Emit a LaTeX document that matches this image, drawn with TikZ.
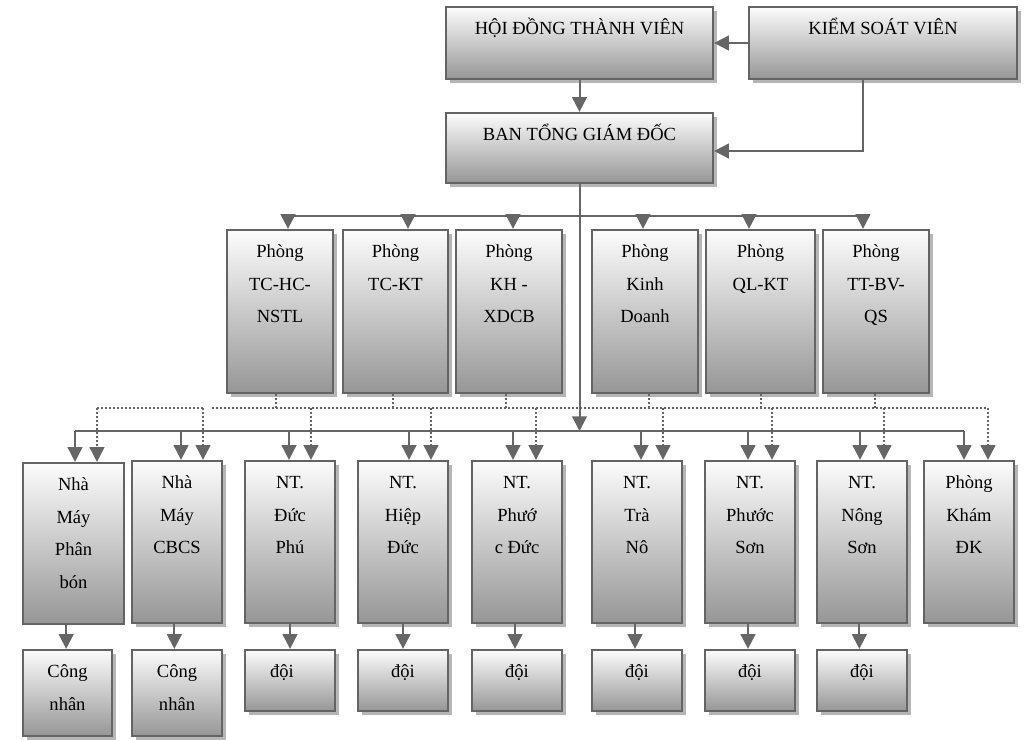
\documentclass[tikz,border=0pt]{standalone}
\usepackage{fontspec}
\setmainfont{Liberation Serif}
\usetikzlibrary{arrows.meta,fit,shadows,calc}

\definecolor{edgegray}{RGB}{100,100,100}
\definecolor{lnkgray}{RGB}{102,102,102}
\definecolor{botgray}{RGB}{150,150,150}
\definecolor{topgray}{RGB}{252,252,252}
\definecolor{shadgray}{RGB}{182,182,182}

\newcommand{\boxfont}{\fontsize{13.9pt}{24.4pt}\selectfont}
\newcommand{\fl}{\rule{0pt}{13.5pt}}
\newcommand{\ob}[6][]{\node[orgbox,#1,fit={(#3,#4)(#5,#6)}] (#2) {};}

\begin{document}
\begin{tikzpicture}[x=0.75pt,y=-0.75pt,
  plainbox/.style={draw=edgegray, line width=1.7pt, top color=topgray, bottom color=botgray, inner sep=0pt},
  orgbox/.style={plainbox, general shadow={fill=shadgray, shadow xshift=3pt, shadow yshift=-3pt}},
  txt/.style={anchor=north, inner sep=0pt, align=center, font=\boxfont},
  conn/.style={draw=lnkgray, line width=1.5pt},
  arr/.style={conn, -{Triangle[length=11pt,width=11pt]}},
  dline/.style={conn, dash pattern=on 1.5pt off 1.5pt},
  darr/.style={dline, -{Triangle[length=11pt,width=11pt]}},
]
\useasboundingbox (0,0) rectangle (1024,739);

% ---- boxes ----
\ob{hdtv}{446}{7}{713}{79}
\ob{ksv}{749}{7}{1017}{79}
\ob{btgd}{446}{113}{713}{183}

\ob{p1}{227}{230}{333}{393}
\ob{p2}{343}{230}{448}{393}
\ob{p3}{456}{230}{562}{393}
\ob{p4}{592}{230}{698}{393}
\ob{p5}{706}{230}{815}{393}
\ob{p6}{823}{230}{929}{393}

\node[plainbox,fit={(23,463)(124,624)}] (r1) {};
\ob{r2}{132}{461}{222}{623}
\ob{r3}{245}{461}{335}{623}
\ob{r4}{358}{461}{448}{623}
\ob{r5}{472}{461}{562}{623}
\ob{r6}{592}{461}{682}{623}
\ob{r7}{705}{461}{795}{623}
\ob{r8}{817}{461}{907}{623}
\ob{r9}{924}{461}{1014}{623}

\ob{c1}{23}{650}{112}{736}
\ob{c2}{132}{650}{222}{736}
\ob{d3}{245}{650}{335}{711}
\ob{d4}{358}{650}{448}{711}
\ob{d5}{472}{650}{562}{711}
\ob{d6}{592}{650}{682}{711}
\ob{d7}{705}{650}{795}{711}
\ob{d8}{817}{650}{907}{711}

% ---- texts ----
\node[txt] (hdtvt) at ([yshift=-7.9pt]hdtv.north) {\fl HỘI ĐỒNG THÀNH VIÊN};
\node[txt] (ksvt) at ([yshift=-7.9pt]ksv.north) {\fl KIỂM SOÁT VIÊN};
\node[txt] (btgdt) at ([yshift=-7.9pt]btgd.north) {\fl BAN TỔNG GIÁM ĐỐC};

\node[txt] (p1t) at ([yshift=-7.9pt]p1.north) {\fl Phòng\\TC-HC-\\NSTL};
\node[txt] (p2t) at ([yshift=-7.9pt]p2.north) {\fl Phòng\\TC-KT};
\node[txt] (p3t) at ([yshift=-7.9pt]p3.north) {\fl Phòng\\KH -\\XDCB};
\node[txt] (p4t) at ([yshift=-7.9pt]p4.north) {\fl Phòng\\Kinh\\Doanh};
\node[txt] (p5t) at ([yshift=-7.9pt]p5.north) {\fl Phòng\\QL-KT};
\node[txt] (p6t) at ([yshift=-7.9pt]p6.north) {\fl Phòng\\TT-BV-\\QS};

\node[txt] (r1t) at ([yshift=-7.9pt]r1.north) {\fl Nhà\\Máy\\Phân\\bón};
\node[txt] (r2t) at ([yshift=-7.9pt]r2.north) {\fl Nhà\\Máy\\CBCS};
\node[txt] (r3t) at ([yshift=-7.9pt]r3.north) {\fl NT.\\Đức\\Phú};
\node[txt] (r4t) at ([yshift=-7.9pt]r4.north) {\fl NT.\\Hiệp\\Đức};
\node[txt] (r5t) at ([yshift=-7.9pt]r5.north) {\fl NT.\\Phướ\\c Đức};
\node[txt] (r6t) at ([yshift=-7.9pt]r6.north) {\fl NT.\\Trà\\Nô};
\node[txt] (r7t) at ([yshift=-7.9pt]r7.north) {\fl NT.\\Phước\\Sơn};
\node[txt] (r8t) at ([yshift=-7.9pt]r8.north) {\fl NT.\\Nông\\Sơn};
\node[txt] (r9t) at ([yshift=-7.9pt]r9.north) {\fl Phòng\\Khám\\ĐK};

\node[txt] (c1t) at ([yshift=-7.9pt]c1.north) {\fl Công\\nhân};
\node[txt] (c2t) at ([yshift=-7.9pt]c2.north) {\fl Công\\nhân};
\node[txt] (d3t) at ([xshift=-6pt,yshift=-7.9pt]d3.north) {\fl đội};
\node[txt] (d4t) at ([yshift=-7.9pt]d4.north) {\fl đội};
\node[txt] (d5t) at ([yshift=-7.9pt]d5.north) {\fl đội};
\node[txt] (d6t) at ([yshift=-7.9pt]d6.north) {\fl đội};
\node[txt] (d7t) at ([yshift=-7.9pt]d7.north) {\fl đội};
\node[txt] (d8t) at ([yshift=-7.9pt]d8.north) {\fl đội};

% ---- bus coordinates ----
\coordinate (t1) at (288,216);
\coordinate (t2) at (408,216);
\coordinate (t3) at (513,216);
\coordinate (t4) at (643,216);
\coordinate (t5) at (749,216);
\coordinate (t6) at (863,216);

\coordinate (s1) at (75,431);
\coordinate (s2) at (181,431);
\coordinate (s3) at (289,431);
\coordinate (s4) at (409,431);
\coordinate (s5) at (513,431);
\coordinate (s6) at (641,431);
\coordinate (s7) at (748,431);
\coordinate (s8) at (860,431);
\coordinate (s9) at (964,431);

\coordinate (q1) at (97,408);
\coordinate (q2) at (203,408);
\coordinate (qg) at (212,408);
\coordinate (q3) at (311,408);
\coordinate (q4) at (431,408);
\coordinate (q5) at (536,408);
\coordinate (q6) at (663,408);
\coordinate (q7) at (772,408);
\coordinate (q8) at (884,408);
\coordinate (q9) at (988,408);

% ---- top connectors ----
\draw[arr] (ksv.west) -- (hdtv.east);
\draw[arr] (hdtv.south) -- (btgd.north);
\draw[arr] ([xshift=-15pt]ksv.south) |- ([yshift=-2.25pt]btgd.east);

% ---- bus to departments ----
\draw[conn] (t1) -- (t6);
\draw[arr] (t1) -- (t1 |- p1.north);
\draw[arr] (t2) -- (t2 |- p2.north);
\draw[arr] (t3) -- (t3 |- p3.north);
\draw[arr] (t4) -- (t4 |- p4.north);
\draw[arr] (t5) -- (t5 |- p5.north);
\draw[arr] (t6) -- (t6 |- p6.north);

% ---- dotted bus ----
\draw[dline] (q1) -- (q2);
\draw[dline] (qg) -- (q9);
\draw[dline] ([xshift=-3pt]p1.south) -- ([xshift=-3pt]p1.south |- q1);
\draw[dline] ([xshift=-2.25pt]p2.south) -- ([xshift=-2.25pt]p2.south |- q1);
\draw[dline] ([xshift=-2.25pt]p3.south) -- ([xshift=-2.25pt]p3.south |- q1);
\draw[dline] ([xshift=3pt]p4.south) -- ([xshift=3pt]p4.south |- q1);
\draw[dline] (p5.south) -- (p5.south |- q1);
\draw[dline] ([xshift=-0.75pt]p6.south) -- ([xshift=-0.75pt]p6.south |- q1);

% ---- trunk and solid bus ----
\draw[arr] (btgd.south) -- (btgd.south |- s1);
\draw[conn] (s1) -- (s9);

% ---- drops to units ----
\draw[arr] (s1) -- (s1 |- r1.north);
\draw[arr] (s2) -- (s2 |- r2.north);
\draw[arr] (s3) -- (s3 |- r3.north);
\draw[arr] (s4) -- (s4 |- r4.north);
\draw[arr] (s5) -- (s5 |- r5.north);
\draw[arr] (s6) -- (s6 |- r6.north);
\draw[arr] (s7) -- (s7 |- r7.north);
\draw[arr] (s8) -- (s8 |- r8.north);
\draw[arr] (s9) -- (s9 |- r9.north);

\draw[darr] (q1) -- (q1 |- r1.north);
\draw[darr] (q2) -- (q2 |- r2.north);
\draw[darr] (q3) -- (q3 |- r3.north);
\draw[darr] (q4) -- (q4 |- r4.north);
\draw[darr] (q5) -- (q5 |- r5.north);
\draw[darr] (q6) -- (q6 |- r6.north);
\draw[darr] (q7) -- (q7 |- r7.north);
\draw[darr] (q8) -- (q8 |- r8.north);
\draw[darr] (q9) -- (q9 |- r9.north);

% ---- units to teams ----
\draw[arr] ([xshift=-1pt]c1.north |- r1.south) -- ([xshift=-1pt]c1.north);
\draw[arr] ([xshift=-2pt]c2.north |- r2.south) -- ([xshift=-2pt]c2.north);
\draw[arr] (d3.north |- r3.south) -- (d3.north);
\draw[arr] (d4.north |- r4.south) -- (d4.north);
\draw[arr] ([xshift=-1.5pt]d5.north |- r5.south) -- ([xshift=-1.5pt]d5.north);
\draw[arr] ([xshift=-1.5pt]d6.north |- r6.south) -- ([xshift=-1.5pt]d6.north);
\draw[arr] ([xshift=-1.5pt]d7.north |- r7.south) -- ([xshift=-1.5pt]d7.north);
\draw[arr] ([xshift=-2pt]d8.north |- r8.south) -- ([xshift=-2pt]d8.north);
\end{tikzpicture}
\end{document}
